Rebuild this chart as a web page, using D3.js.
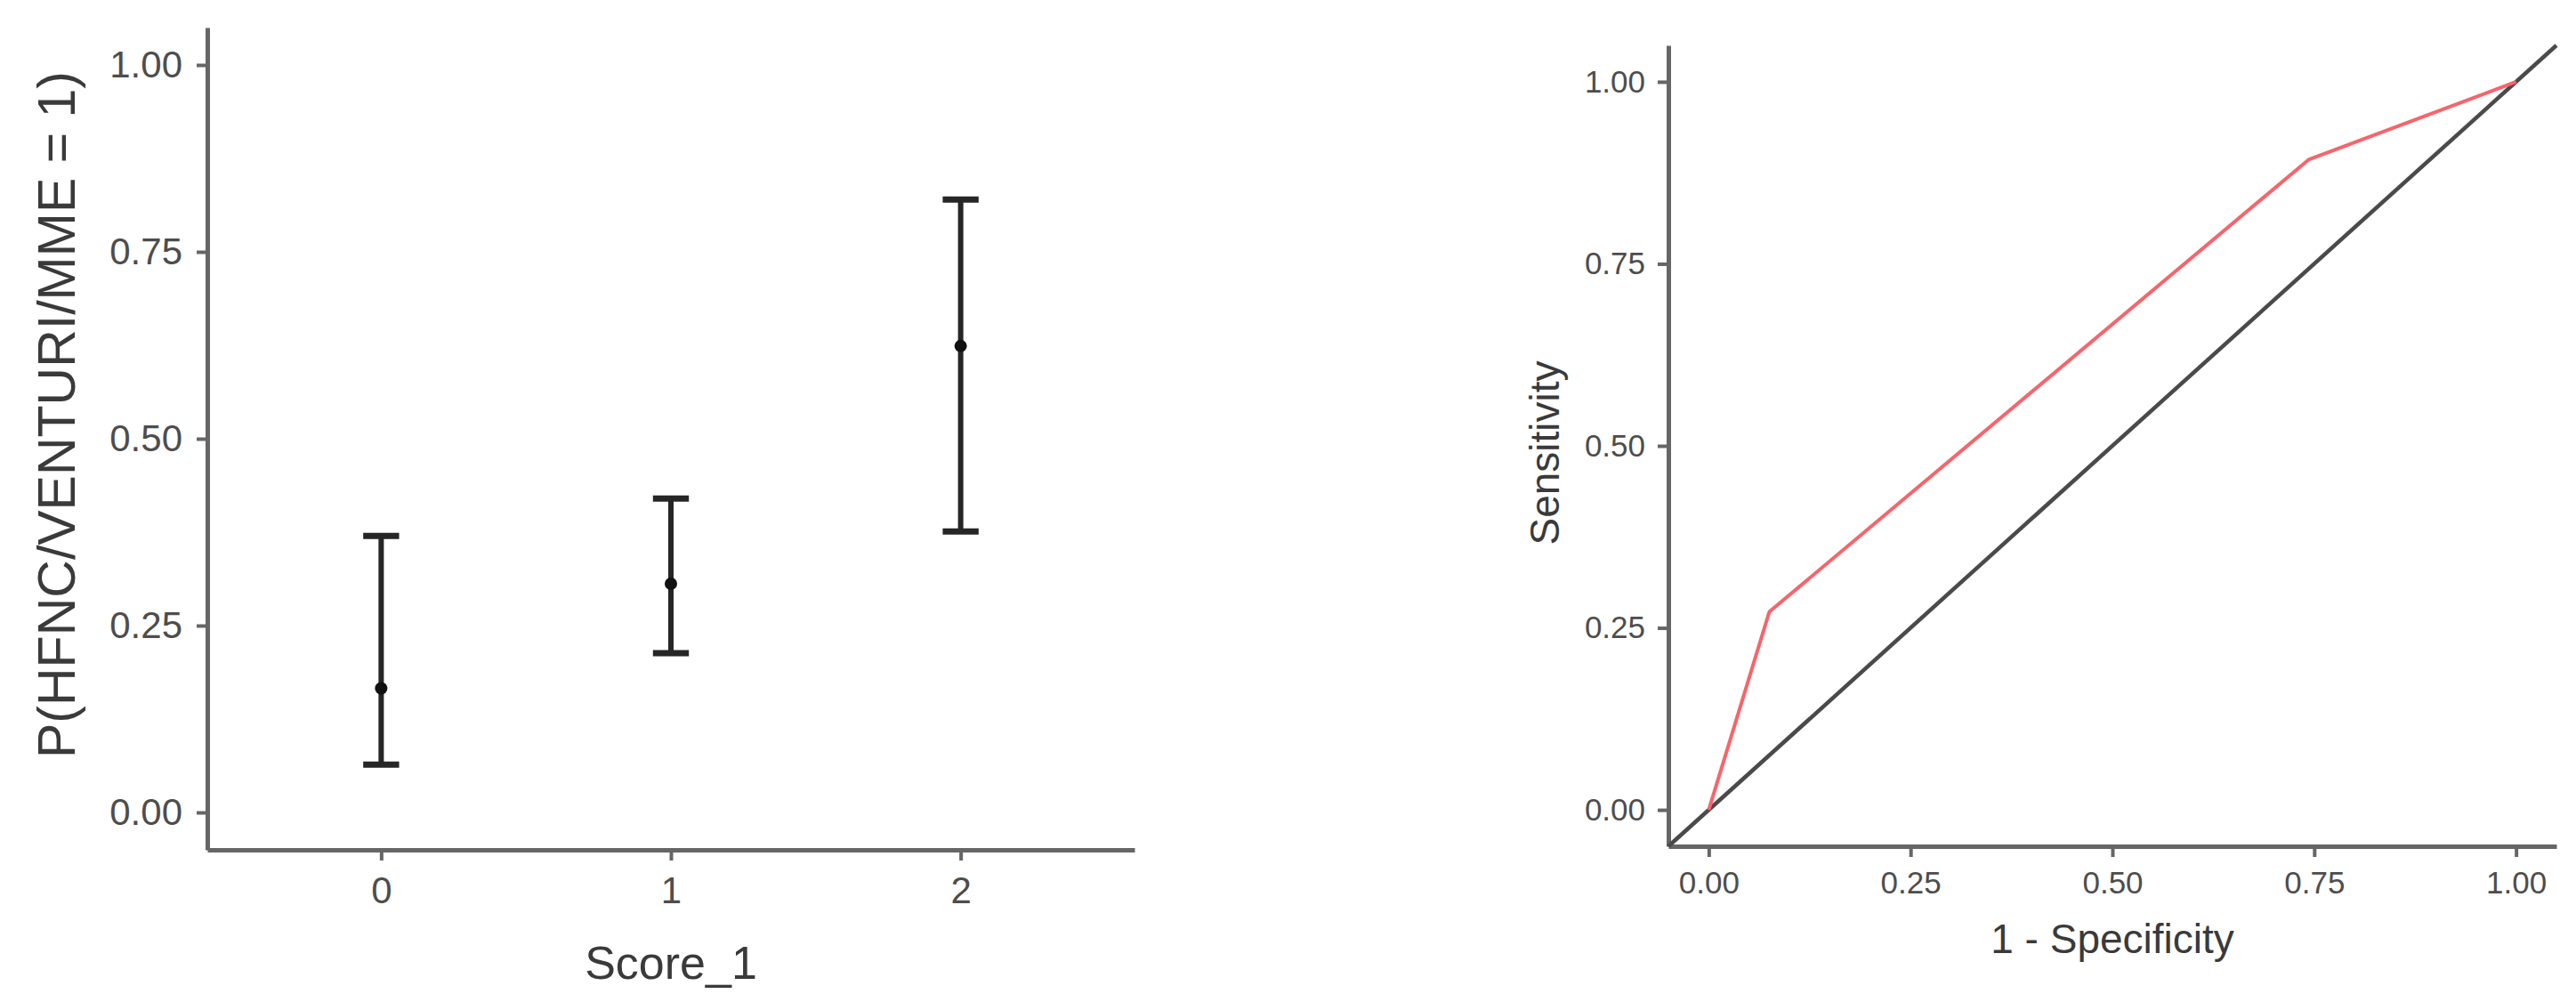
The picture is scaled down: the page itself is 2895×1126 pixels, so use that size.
<!DOCTYPE html>
<html>
<head>
<meta charset="utf-8">
<script src="https://cdn.jsdelivr.net/npm/d3@7"></script>
<style>
  html, body { margin: 0; padding: 0; background: #ffffff; }
  svg { display: block; }
  text { font-family: "Liberation Sans", Arial, sans-serif; }
</style>
</head>
<body>
<svg id="chart" width="2895" height="1126"></svg>
<script>
// ---------- data (left panel: predicted probability by score) ----------
const scoreCategories = [0, 1, 2];
const scoreLabels = ["0", "1", "2"];
const probEstimate = [0.166, 0.306, 0.624];
const probLower = [0.064, 0.213, 0.376];
const probUpper = [0.370, 0.420, 0.820];

// ---------- data (right panel: ROC curve) ----------
const rocFpr = [0, 0.075, 0.743, 1];
const rocTpr = [0, 0.272, 0.893, 1];
const refIntercept = 0;
const refSlope = 1;

// ---------- tick labels ----------
const probTicks = [0, 0.25, 0.5, 0.75, 1];
const probTickLabels = ["0.00", "0.25", "0.50", "0.75", "1.00"];

const leftXTitle = "Score_1";
const leftYTitle = "P(HFNC/VENTURI/MME = 1)";
const rightXTitle = "1 - Specificity";
const rightYTitle = "Sensitivity";

// ---------- setup ----------
const svg = d3.select("#chart");
const axisColor = "#666666";
const tickTextColor = "#4d4d4d";
const titleColor = "#3a3a3a";

function styleAxis(g, fontSize) {
  g.select(".domain").attr("stroke", axisColor).attr("stroke-width", 5);
  g.selectAll(".tick line").attr("stroke", axisColor).attr("stroke-width", 4);
  g.selectAll(".tick text").attr("fill", tickTextColor)
    .style("font-size", fontSize + "px")
    .style("font-family", '"Liberation Sans", Arial, sans-serif');
}

// ================= LEFT PANEL =================
const L = { x0: 233, x1: 1275, y0: 31, y1: 955 };
const xL = d3.scaleLinear().domain([-0.6, 2.6]).range([L.x0, L.x1]);
const yL = d3.scaleLinear().domain([-0.05, 1.05]).range([L.y1, L.y0]);

const gLeftY = svg.append("g").attr("transform", `translate(${L.x0},0)`)
  .call(d3.axisLeft(yL).tickValues(probTicks)
    .tickFormat((d, i) => probTickLabels[i]).tickSize(12).tickSizeOuter(0).tickPadding(16));
styleAxis(gLeftY, 42);

const gLeftX = svg.append("g").attr("transform", `translate(0,${L.y1})`)
  .call(d3.axisBottom(xL).tickValues(scoreCategories)
    .tickFormat((d, i) => scoreLabels[i]).tickSize(12).tickSizeOuter(0).tickPadding(18));
styleAxis(gLeftX, 42);

// error bars
const capHalf = 0.062;
const barColor = "#262626";
const eb = svg.append("g");
scoreCategories.forEach((c, i) => {
  eb.append("line")
    .attr("x1", xL(c)).attr("x2", xL(c))
    .attr("y1", yL(probLower[i])).attr("y2", yL(probUpper[i]))
    .attr("stroke", barColor).attr("stroke-width", 6);
  [probLower[i], probUpper[i]].forEach(v => {
    eb.append("line")
      .attr("x1", xL(c - capHalf)).attr("x2", xL(c + capHalf))
      .attr("y1", yL(v)).attr("y2", yL(v))
      .attr("stroke", barColor).attr("stroke-width", 7);
  });
  eb.append("circle")
    .attr("cx", xL(c)).attr("cy", yL(probEstimate[i]))
    .attr("r", 7).attr("fill", "#111111");
});

svg.append("text")
  .attr("x", (L.x0 + L.x1) / 2).attr("y", 1100)
  .attr("text-anchor", "middle").attr("fill", titleColor)
  .style("font-size", "52px").text(leftXTitle);

svg.append("text")
  .attr("transform", `translate(84,466) rotate(-90)`)
  .attr("text-anchor", "middle").attr("fill", titleColor)
  .style("font-size", "59px").text(leftYTitle);

// ================= RIGHT PANEL =================
const R = { x0: 1875, x1: 2873, y0: 51, y1: 951 };
const xR = d3.scaleLinear().domain([-0.05, 1.05]).range([R.x0, R.x1]);
const yR = d3.scaleLinear().domain([-0.05, 1.05]).range([R.y1, R.y0]);

const gRightY = svg.append("g").attr("transform", `translate(${R.x0},0)`)
  .call(d3.axisLeft(yR).tickValues(probTicks)
    .tickFormat((d, i) => probTickLabels[i]).tickSize(12).tickSizeOuter(0).tickPadding(14));
styleAxis(gRightY, 35);

const gRightX = svg.append("g").attr("transform", `translate(0,${R.y1})`)
  .call(d3.axisBottom(xR).tickValues(probTicks)
    .tickFormat((d, i) => probTickLabels[i]).tickSize(12).tickSizeOuter(0).tickPadding(16));
styleAxis(gRightX, 35);

// reference diagonal across the whole panel
const dom = xR.domain();
const refPts = dom.map(x => ({ x: x, y: refIntercept + refSlope * x }));
const lineR = d3.line().x(d => xR(d.x)).y(d => yR(d.y));
svg.append("path").datum(refPts)
  .attr("d", lineR).attr("fill", "none")
  .attr("stroke", "#4a4a4a").attr("stroke-width", 4.5);

// ROC curve
const rocPts = rocFpr.map((f, i) => ({ x: f, y: rocTpr[i] }));
svg.append("path").datum(rocPts)
  .attr("d", lineR).attr("fill", "none")
  .attr("stroke", "#F8646A").attr("stroke-width", 4)
  .attr("stroke-linejoin", "round");

svg.append("text")
  .attr("x", (R.x0 + R.x1) / 2).attr("y", 1071)
  .attr("text-anchor", "middle").attr("fill", titleColor)
  .style("font-size", "46px").text(rightXTitle);

svg.append("text")
  .attr("transform", `translate(1752,${(R.y0 + R.y1) / 2 + 8}) rotate(-90)`)
  .attr("text-anchor", "middle").attr("fill", titleColor)
  .style("font-size", "46px").text(rightYTitle);
</script>
</body>
</html>
